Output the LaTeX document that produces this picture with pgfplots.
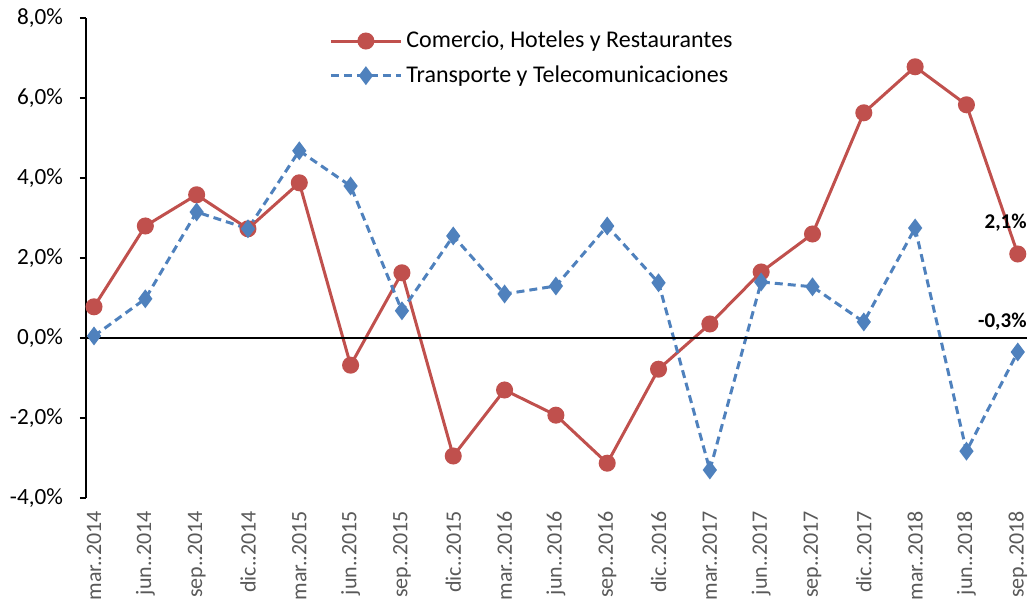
\documentclass[border=0pt]{standalone}
\usepackage{fontspec}
\setmainfont{Carlito}
\usepackage{pgfplots}
\pgfplotsset{compat=1.18}

\definecolor{cRed}{HTML}{C0504D}
\definecolor{cBlue}{HTML}{4F81BD}
\definecolor{cGray}{HTML}{595959}

\begin{document}
\begin{tikzpicture}
\begin{axis}[
	scale only axis,
	width=470.5pt, height=240pt,
	xmin=-0.156, xmax=18.18,
	ymin=-4, ymax=8,
	axis y line*=left,
	axis x line*=bottom,
	x axis line style={draw=none},
	xtick={0,...,18},
	xticklabels={mar..2014,jun..2014,sep..2014,dic..2014,mar..2015,jun..2015,sep..2015,dic..2015,mar..2016,jun..2016,sep..2016,dic..2016,mar..2017,jun..2017,sep..2017,dic..2017,mar..2018,jun..2018,sep..2018},
	x tick style={draw=none},
	xticklabel style={rotate=90, anchor=east, font=\fontsize{11}{13}\selectfont, text=cGray},
	ytick={-4,-2,0,2,4,6,8},
	yticklabels={{-4,0\%},{-2,0\%},{0,0\%},{2,0\%},{4,0\%},{6,0\%},{8,0\%}},
	yticklabel style={font=\fontsize{11.6}{13}\selectfont, text=black, xshift=-5pt},
	tick align=outside,
	major tick length=3pt,
	y axis line style={line width=0.8pt},
	y tick style={line width=0.8pt, black},
	clip=false,
	legend style={draw=none, fill=none, at={(0.475,0.99)}, anchor=north,
		font=\fontsize{12}{14}\selectfont, row sep=3.5pt,
		legend cell align=left},
	legend image code/.code={
		\draw[#1] (0pt,0pt) -- (35pt,0pt);
		\draw[#1, solid] plot coordinates {(17.5pt,0pt)};
	},
]
\addplot[color=cRed, line width=1.5pt, mark=*, mark size=3.5pt, mark options={solid, fill=cRed}]
coordinates {
	(0,0.78) (1,2.8) (2,3.58) (3,2.73) (4,3.88) (5,-0.68) (6,1.63) (7,-2.95)
	(8,-1.3) (9,-1.93) (10,-3.13) (11,-0.78) (12,0.35) (13,1.65) (14,2.6)
	(15,5.63) (16,6.78) (17,5.83) (18,2.1)
};
\addlegendentry{Comercio, Hoteles y Restaurantes}
\addplot[color=cBlue, line width=1.5pt, dash pattern=on 4pt off 2.5pt, mark=diamond*, mark size=3.5pt, mark options={solid, fill=cBlue}]
coordinates {
	(0,0.05) (1,0.98) (2,3.15) (3,2.73) (4,4.68) (5,3.8) (6,0.68) (7,2.55)
	(8,1.1) (9,1.3) (10,2.8) (11,1.38) (12,-3.3) (13,1.4) (14,1.28)
	(15,0.4) (16,2.75) (17,-2.83) (18,-0.35)
};
\addlegendentry{Transporte y Telecomunicaciones}
\addplot[black, line width=0.7pt, forget plot] coordinates {(-0.156,0) (18.18,0)};
\node[anchor=east, inner sep=0pt, font=\bfseries\fontsize{10.5}{12}\selectfont] at (axis cs:18.18,2.88) {2,1\%};
\node[anchor=east, inner sep=0pt, font=\bfseries\fontsize{10.5}{12}\selectfont] at (axis cs:18.18,0.42) {-0,3\%};
\coordinate (ll) at (rel axis cs:0,0);
\coordinate (ur) at (rel axis cs:1,1);
\end{axis}
\pgfresetboundingbox
\path ([shift={(-43pt,-51.5pt)}]ll) rectangle ([shift={(2pt,9pt)}]ur);
\end{tikzpicture}
\end{document}
